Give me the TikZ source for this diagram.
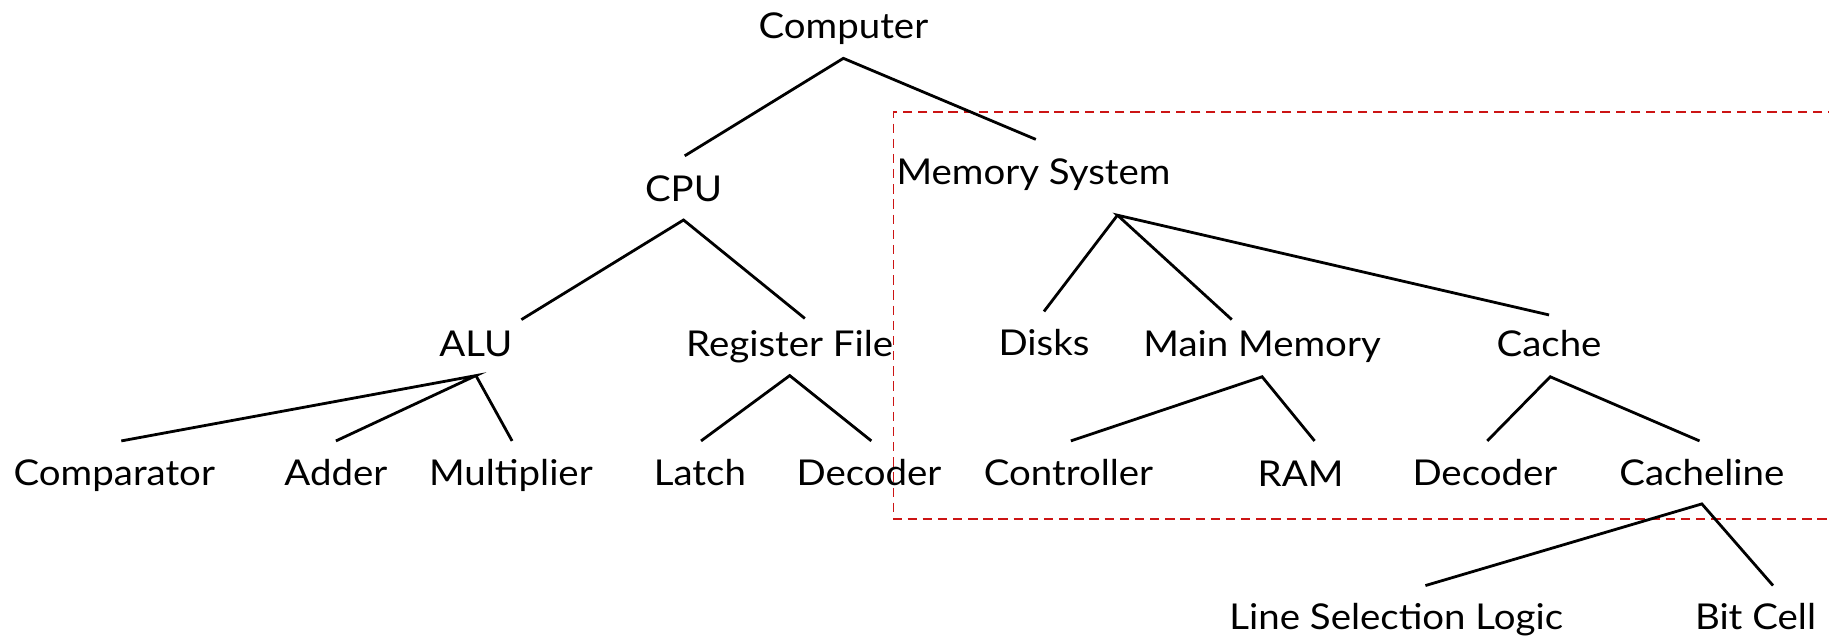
\documentclass[tikz,border=0pt]{standalone}
\usepackage{fontspec}
\setmainfont[FakeStretch=1.08]{Lato}
\definecolor{boxred}{RGB}{204,20,20}
\begin{document}
\begin{tikzpicture}[x=1pt,y=-1pt,
  lbl/.style={font=\fontsize{30.5}{36}\selectfont, inner sep=0pt, outer sep=0pt,
              minimum height=54pt, text height=21.8pt, text depth=0pt},
  branch/.style={line width=2.4pt, black},
  region/.style={boxred, line width=1.4pt, dash pattern=on 8pt off 5pt}]
\useasboundingbox (0,0) rectangle (1568,548);

% dashed region around the memory hierarchy
\draw[region] (1575,96) -- (766,96) -- (766,445) -- (1575,445);

% level 0
\node[lbl] (comp) at (723,22) {Computer};
% level 1
\node[lbl] (cpu) at (586,161.6) {CPU};
\node[lbl] (mem) at (886,147.5) {Memory System};
% level 2
\node[lbl] (alu) at (408,295) {ALU};
\node[lbl] (reg) at (677,295) {Register File};
\node[lbl] (disks) at (895,294) {Disks};
\node[lbl] (mainmem) at (1082,295) {Main Memory};
\node[lbl] (cache) at (1328,295) {Cache};
% level 3
\node[lbl] (cmp) at (98,405) {Comparator};
\node[lbl] (adder) at (288,405) {Adder};
\node[lbl] (mult) at (438,405) {Multiplier};
\node[lbl] (latch) at (600,405) {Latch};
\node[lbl] (dec1) at (745,405) {Decoder};
\node[lbl] (ctrl) at (916,405) {Controller};
\node[lbl] (ram) at (1115,406) {RAM};
\node[lbl] (dec2) at (1273,405) {Decoder};
\node[lbl] (cline) at (1459,405) {Cacheline};
% level 4
\node[lbl] (lsl) at (1197,529) {Line Selection Logic};
\node[lbl] (bit) at (1505,529) {Bit Cell};

% branches
\draw[branch] ([shift={(1,-1)}]cpu.north) -- ([shift={(0,1)}]comp.south) -- ([shift={(2,-1)}]mem.north);
\draw[branch] ([shift={(39,6)}]alu.north) -- (cpu.south) -- ([shift={(13,5)}]reg.north);
\draw[branch] (disks.north) -- ([shift={(72,10)}]mem.south);
\draw[branch] ([shift={(-26,6)}]mainmem.north) -- ([shift={(72,10)}]mem.south) -- ([shift={(0,2)}]cache.north);
\draw[branch] ([shift={(6,0)}]cmp.north) -- (alu.south) -- (adder.north);
\draw[branch] ([shift={(1,0)}]mult.north) -- (alu.south);
\draw[branch] ([shift={(1,0)}]latch.north) -- (reg.south) -- ([shift={(2,0)}]dec1.north);
\draw[branch] ([shift={(2,0)}]ctrl.north) -- ([shift={(0,1)}]mainmem.south) -- ([shift={(12,-1)}]ram.north);
\draw[branch] ([shift={(2,0)}]dec2.north) -- ([shift={(1,1)}]cache.south) -- ([shift={(-2,0)}]cline.north);
\draw[branch] ([shift={(25,0)}]lsl.north) -- (cline.south) -- ([shift={(15,0)}]bit.north);
\end{tikzpicture}
\end{document}
